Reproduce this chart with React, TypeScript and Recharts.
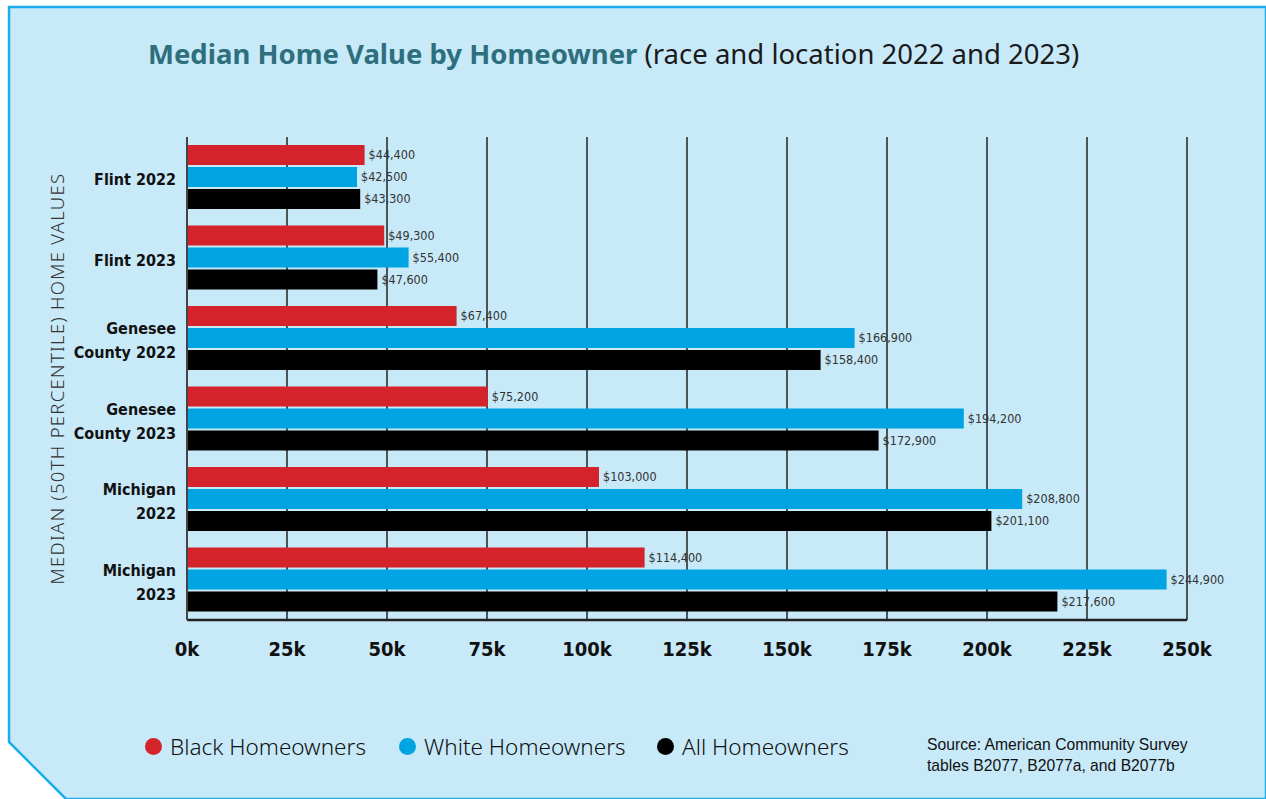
import { BarChart, Bar, XAxis, YAxis, CartesianGrid, LabelList } from "recharts";

const categories = [
  "Flint 2022",
  "Flint 2023",
  "Genesee\nCounty 2022",
  "Genesee\nCounty 2023",
  "Michigan\n2022",
  "Michigan\n2023",
];
const blackValues = [44400, 49300, 67400, 75200, 103000, 114400];
const whiteValues = [42500, 55400, 166900, 194200, 208800, 244900];
const allValues = [43300, 47600, 158400, 172900, 201100, 217600];
const xTicks = [0, 25000, 50000, 75000, 100000, 125000, 150000, 175000, 200000, 225000, 250000];

const series = [
  { key: "black", name: "Black Homeowners", color: "#d5232b" },
  { key: "white", name: "White Homeowners", color: "#00a4e2" },
  { key: "all", name: "All Homeowners", color: "#000000" },
];

const data = categories.map((name, i) => ({
  name,
  black: blackValues[i],
  white: whiteValues[i],
  all: allValues[i],
}));

const CONDENSED = "'DejaVu Sans Condensed', 'DejaVu Sans', sans-serif";
const BG = "#c7e9f8";
const BORDER = "#1caeec";

const money = (v: any) => `$${Number(v).toLocaleString("en-US")}`;

const CategoryTick = (props: any) => {
  const { x, y, payload } = props;
  const lines = String(payload.value).split("\n");
  const lh = 24;
  const start = y + 2 - ((lines.length - 1) * lh) / 2;
  return (
    <text
      x={x - 3}
      textAnchor="end"
      style={{ fontFamily: CONDENSED, fontStretch: "condensed", fontWeight: 700, fontSize: 16 }}
      fill="#111"
    >
      {lines.map((l, i) => (
        <tspan key={i} x={x - 3} y={start + i * lh} dy="0.36em">
          {l}
        </tspan>
      ))}
    </text>
  );
};

const legendX = [145, 399, 657];

export default function App() {
  return (
    <div
      style={{
        position: "absolute",
        left: 0,
        top: 0,
        width: 1266,
        height: 799,
        overflow: "hidden",
        background: "#fff",
      }}
    >
      <svg width={1266} height={799} style={{ position: "absolute", left: 0, top: 0 }}>
        <polygon
          points="9,7 1266,7 1266,799 66,799 9,742"
          fill={BG}
          stroke={BORDER}
          strokeWidth={2.5}
        />
      </svg>
      <div
        style={{
          position: "absolute",
          left: 148,
          top: 35,
          fontFamily: "'Noto Sans', sans-serif",
          fontSize: 27.5,
          color: "#1a1a1a",
          whiteSpace: "nowrap",
        }}
      >
        <span style={{ fontWeight: 700, color: "#2e6f7e" }}>Median Home Value by Homeowner</span>{" "}
        <span style={{ fontWeight: 400 }}>(race and location 2022 and 2023)</span>
      </div>
      <div style={{ position: "absolute", left: 0, top: 0 }}>
        <BarChart
          width={1266}
          height={799}
          data={data}
          layout="vertical"
          margin={{ top: 137, right: 79, bottom: 139, left: 0 }}
          barSize={20}
          barGap={2}
          barCategoryGap={8}
        >
          <CartesianGrid horizontal={false} stroke="#222" strokeWidth={1.5} />
          <XAxis
            type="number"
            domain={[0, 250000]}
            ticks={xTicks}
            tickFormatter={(v) => `${v / 1000}k`}
            tickLine={false}
            axisLine={{ stroke: "#222", strokeWidth: 2.5 }}
            tickMargin={16}
            height={40}
            tick={{
              fill: "#111",
              style: { fontFamily: CONDENSED, fontStretch: "condensed", fontWeight: 700, fontSize: 20 },
            }}
            interval={0}
          />
          <YAxis
            type="category"
            dataKey="name"
            width={187}
            tickLine={false}
            axisLine={{ stroke: "#444", strokeWidth: 2 }}
            tick={<CategoryTick />}
            interval={0}
            label={{
              value: "MEDIAN (50TH PERCENTILE) HOME VALUES",
              angle: -90,
              position: "center",
              dx: -36,
              style: {
                fontFamily: "'Noto Sans', sans-serif",
                fontWeight: 300,
                fontSize: 18.5,
                fill: "#333",
                letterSpacing: 1.3,
              },
            }}
          />
          {series.map((s) => (
            <Bar key={s.key} dataKey={s.key} name={s.name} fill={s.color} isAnimationActive={false}>
              <LabelList
                dataKey={s.key}
                position="right"
                offset={4}
                formatter={money}
                style={{
                  fontFamily: CONDENSED,
                  fontStretch: "condensed",
                  fontSize: 12.5,
                  fill: "#333",
                }}
              />
            </Bar>
          ))}
        </BarChart>
      </div>
      {series.map((s, i) => (
        <div
          key={s.key}
          style={{
            position: "absolute",
            left: legendX[i],
            top: 731,
            display: "flex",
            alignItems: "center",
            fontFamily: "'Noto Sans', sans-serif",
            fontWeight: 300,
            fontSize: 22.5,
            color: "#111",
            whiteSpace: "nowrap",
          }}
        >
          <span
            style={{
              display: "inline-block",
              width: 17,
              height: 17,
              borderRadius: "50%",
              background: s.color,
              marginRight: 8,
            }}
          />
          {s.name}
        </div>
      ))}
      <div
        style={{
          position: "absolute",
          left: 927,
          top: 734,
          fontFamily: "'Liberation Sans', Arial, sans-serif",
          fontSize: 15.7,
          lineHeight: "21px",
          color: "#111",
        }}
      >
        Source: American Community Survey
        <br />
        tables B2077, B2077a, and B2077b
      </div>
    </div>
  );
}
